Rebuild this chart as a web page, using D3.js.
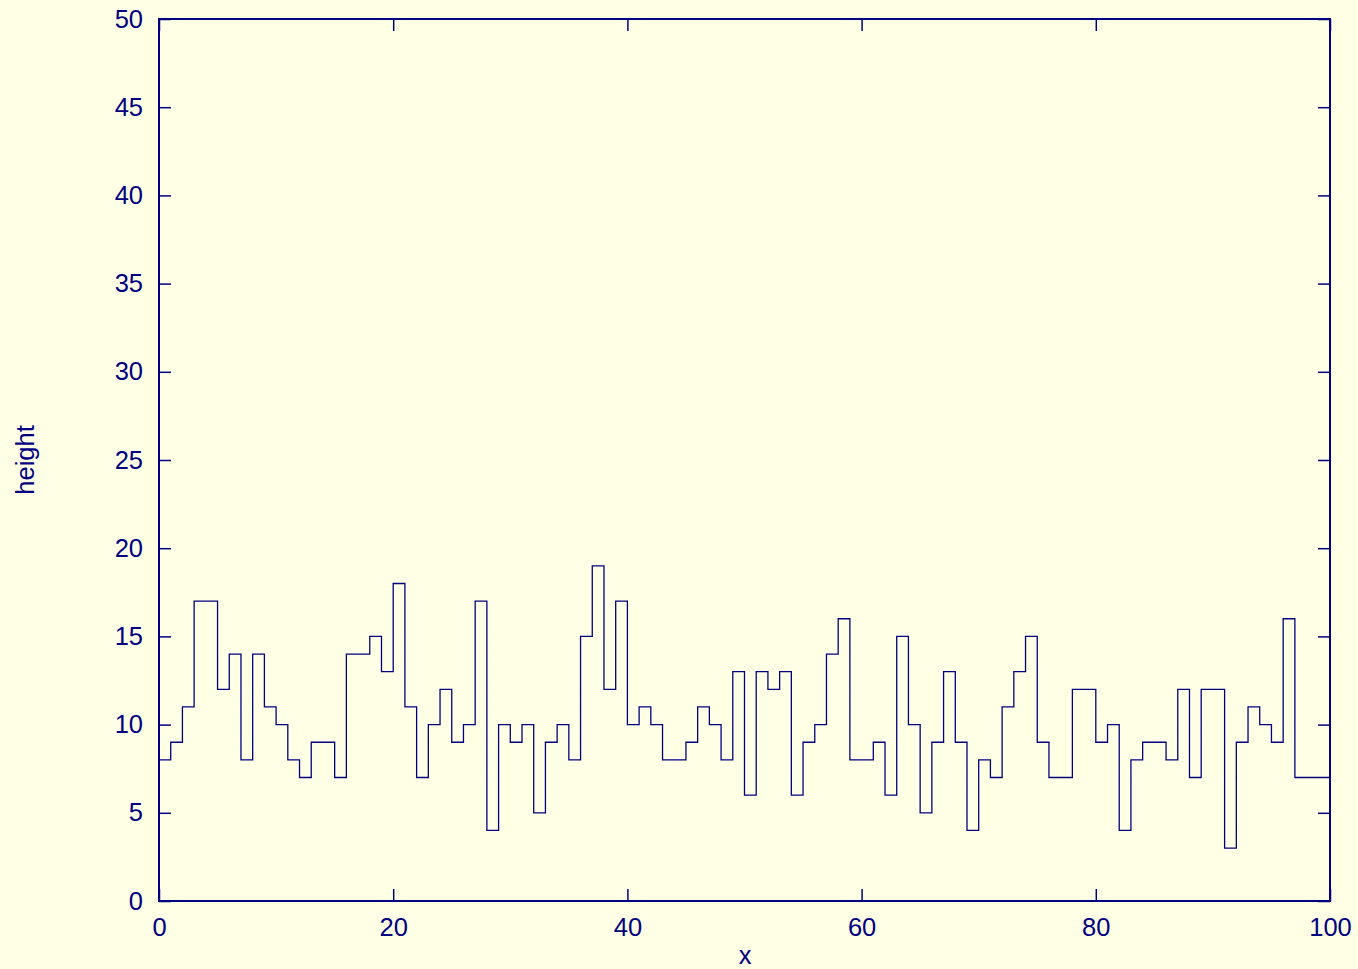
<!DOCTYPE html>
<html>
<head>
<meta charset="utf-8">
<script src="https://cdn.jsdelivr.net/npm/d3@7"></script>
<style>
  html, body { margin: 0; padding: 0; background: #ffffe6; }
  svg { display: block; }
  text { font-family: "Liberation Sans", Arial, Helvetica, sans-serif; fill: #000080; }
</style>
</head>
<body>
<svg id="chart" width="1358" height="969"></svg>
<script>
// Bin heights, one per unit interval [i, i+1) for i = 0..99
const heights = [
  8, 9, 11, 17, 17, 12, 14, 8, 14, 11,
  10, 8, 7, 9, 9, 7, 14, 14, 15, 13,
  18, 11, 7, 10, 12, 9, 10, 17, 4, 10,
  9, 10, 5, 9, 10, 8, 15, 19, 12, 17,
  10, 11, 10, 8, 8, 9, 11, 10, 8, 13,
  6, 13, 12, 13, 6, 9, 10, 14, 16, 8,
  8, 9, 6, 15, 10, 5, 9, 13, 9, 4,
  8, 7, 11, 13, 15, 9, 7, 7, 12, 12,
  9, 10, 4, 8, 9, 9, 8, 12, 7, 12,
  12, 3, 9, 11, 10, 9, 16, 7, 7, 7
];
const xTicks = [0, 20, 40, 60, 80, 100];
const yTicks = [0, 5, 10, 15, 20, 25, 30, 35, 40, 45, 50];
const xDomain = [0, 100];
const yDomain = [0, 50];

const ink = "#000080";
const fontSize = "25.5px";
const margin = { left: 159, right: 1330, top: 19, bottom: 901 };

const svg = d3.select("#chart");
svg.append("rect").attr("width", 1358).attr("height", 969).attr("fill", "#ffffe6");

const x = d3.scaleLinear().domain(xDomain).range([margin.left, margin.right]);
const y = d3.scaleLinear().domain(yDomain).range([margin.bottom, margin.top]);

// Step outline: each value spans its unit interval
const pts = heights.map((v, i) => [i, v]);
pts.push([heights.length, heights[heights.length - 1]]);
const line = d3.line().x(d => x(d[0])).y(d => y(d[1])).curve(d3.curveStepAfter);

svg.append("path")
  .attr("d", line(pts))
  .attr("fill", "none")
  .attr("stroke", ink)
  .attr("stroke-width", 1.3);

// Inward ticks, mirrored on all four sides
const tickLen = 12;
const axisStyle = g => {
  g.select(".domain").remove();
  g.selectAll(".tick line").attr("stroke", ink).attr("stroke-width", 1.5);
  g.selectAll(".tick text").style("font-size", fontSize).attr("fill", ink);
};

svg.append("g").attr("transform", `translate(0,${margin.bottom})`)
  .call(d3.axisBottom(x).tickValues(xTicks).tickSize(-tickLen).tickPadding(17).tickFormat(d3.format("d")))
  .call(axisStyle)
  .call(g => g.selectAll(".tick text").attr("dy", "0.71em"));

svg.append("g").attr("transform", `translate(0,${margin.top})`)
  .call(d3.axisTop(x).tickValues(xTicks).tickSize(-tickLen).tickFormat(""))
  .call(axisStyle);

svg.append("g").attr("transform", `translate(${margin.left},0)`)
  .call(d3.axisLeft(y).tickValues(yTicks).tickSize(-tickLen).tickPadding(16).tickFormat(d3.format("d")))
  .call(axisStyle);

svg.append("g").attr("transform", `translate(${margin.right},0)`)
  .call(d3.axisRight(y).tickValues(yTicks).tickSize(-tickLen).tickFormat(""))
  .call(axisStyle);

// Frame
svg.append("rect")
  .attr("x", margin.left).attr("y", margin.top)
  .attr("width", margin.right - margin.left)
  .attr("height", margin.bottom - margin.top)
  .attr("fill", "none").attr("stroke", ink).attr("stroke-width", 2);

// Axis titles
svg.append("text")
  .attr("x", (margin.left + margin.right) / 2 + 0.5)
  .attr("y", 964)
  .attr("text-anchor", "middle")
  .style("font-size", fontSize)
  .text("x");

svg.append("text")
  .attr("transform", `translate(34,${(margin.top + margin.bottom) / 2}) rotate(-90)`)
  .attr("text-anchor", "middle")
  .style("font-size", fontSize)
  .text("height");
</script>
</body>
</html>
